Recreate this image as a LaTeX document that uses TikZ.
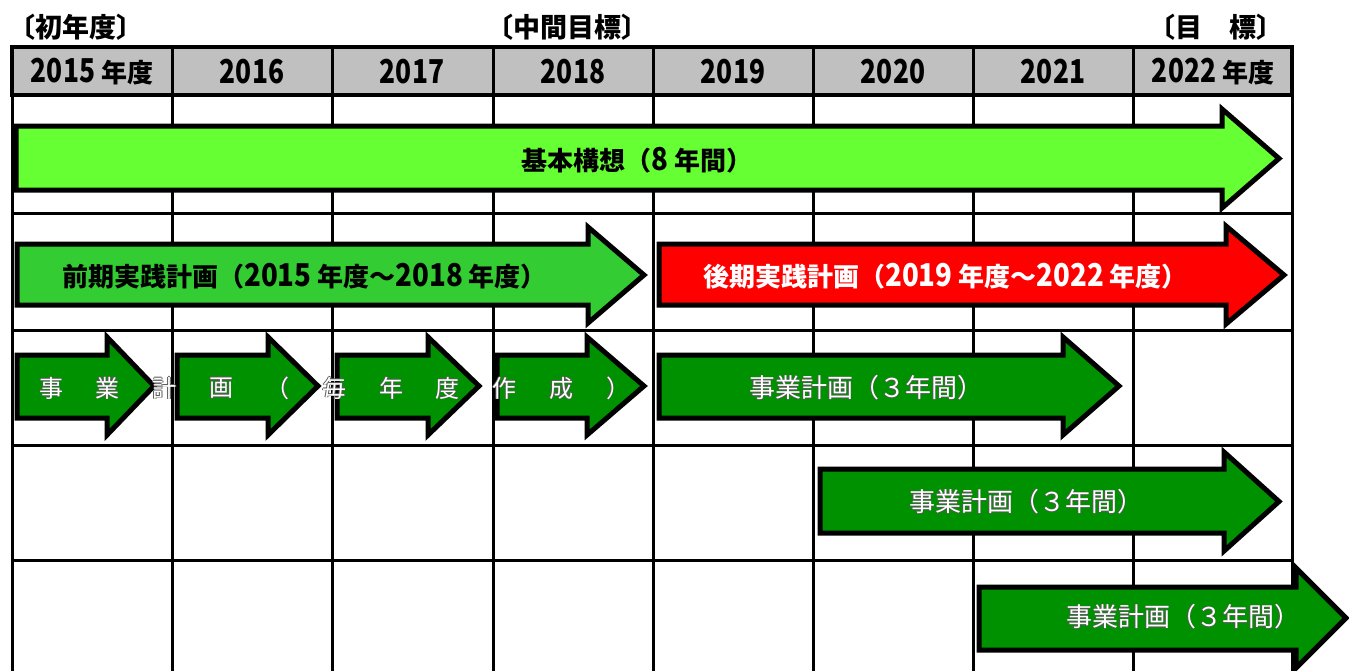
\documentclass[tikz,border=0pt]{standalone}
\usepackage{graphicx}
\usepackage{fontspec}
\setmainfont{Noto Sans CJK JP}
\newfontfamily\digA{Noto Sans CJK JP}[Scale=1.12]
\newfontfamily\digB{Noto Sans CJK JP}[Scale=1.1]
\definecolor{hdrgray}{HTML}{C0C0C0}
\definecolor{lgreen}{HTML}{66FF33}
\definecolor{mgreen}{HTML}{33CC33}
\definecolor{dgreen}{HTML}{009100}
\definecolor{ared}{HTML}{FF0000}
\newcommand\da[1]{\scalebox{0.95}[1.08]{\digA\bfseries #1}}
\newcommand\db[1]{\scalebox{0.92}[1.15]{\digB\bfseries #1}}
\newcommand\olt[1]{\leavevmode\rlap{\kern-0.8pt\color{black!65}#1}\rlap{\kern0.8pt\color{black!65}#1}\rlap{\raisebox{0.8pt}{\color{black!65}#1}}\rlap{\raisebox{-0.8pt}{\color{black!65}#1}}{\color{white}#1}}
% arrow: fill, left, base, tip, shaft top, shaft bottom, head top, head bottom
\newcommand\arw[8]{\draw[arrowline, fill=#1] (#2,#5) -- (#3,#5) -- (#3,#7) -- (#4,{(#7+#8)/2}) -- (#3,#8) -- (#3,#6) -- (#2,#6) -- cycle;}
\begin{document}
\begin{tikzpicture}[x=1pt,y=-1pt,
  grid/.style={line width=3pt,black},
  arrowline/.style={line width=5pt,black,line join=miter},
  toplbl/.style={font=\bfseries\fontsize{27}{29}\selectfont,inner sep=0pt},
  hdr/.style={font=\bfseries\fontsize{26}{28}\selectfont,inner sep=0pt},
  lbl/.style={font=\bfseries\fontsize{26}{28}\selectfont,inner sep=0pt},
  wlbl/.style={font=\fontsize{26}{28}\selectfont,inner sep=0pt},
  spread/.style={font=\fontsize{24}{26}\selectfont,inner sep=0pt}]
\useasboundingbox[fill=white] (0,0) rectangle (1349,670);
% header
\fill[hdrgray] (12,47) rectangle (1292,95);
% grid
\foreach \x in {12,172,332,493,653,813,973,1133,1292}
  \draw[grid] (\x,47) -- (\x,672);
\foreach \y in {213,330,445,560}
  \draw[grid] (12,\y) -- (1292,\y);
\draw[line width=4pt] (12,47) rectangle (1292,95);
% top labels
\node[toplbl] (t1) at (76,27) {〔初年度〕};
\node[toplbl] (t2) at (567,27) {〔中間目標〕};
\node[toplbl] (t3) at (1216,27) {〔目　標〕};
% header labels
\node[hdr] (h1) at (92,72) {\db{2015} 年度};
\node[hdr] (h2) at (252,72) {\db{2016}};
\node[hdr] (h3) at (412,72) {\db{2017}};
\node[hdr] (h4) at (573,72) {\db{2018}};
\node[hdr] (h5) at (733,72) {\db{2019}};
\node[hdr] (h6) at (893,72) {\db{2020}};
\node[hdr] (h7) at (1053,72) {\db{2021}};
\node[hdr] (h8) at (1213,72) {\db{2022} 年度};
% arrows
\arw{lgreen}{16}{1222}{1279}{126}{190}{109}{208}
\arw{mgreen}{17}{588}{644}{244}{305}{227}{323}
\arw{ared}{659}{1226}{1284}{244}{305}{226}{324}
\arw{dgreen}{17}{107}{154}{355}{418}{337}{435}
\arw{dgreen}{177}{268}{318}{355}{418}{337}{435}
\arw{dgreen}{337}{428}{479}{355}{418}{337}{435}
\arw{dgreen}{497}{587}{644}{355}{418}{337}{435}
\arw{dgreen}{659}{1063}{1119}{355}{418}{337}{435}
\arw{dgreen}{820}{1224}{1279}{469}{533}{452}{551}
\arw{dgreen}{979}{1296}{1346}{587}{650}{568}{668}
% arrow labels
\node[lbl] (a1) at (637,160) {基本構想（\da{8} 年間）};
\node[lbl,anchor=west] (a2) at (62,276) {前期実践計画（\da{2015} 年度～\da{2018} 年度）};
\node[lbl,anchor=west,text=white] (a3) at (703,276) {後期実践計画（\da{2019} 年度～\da{2022} 年度）};
\foreach \c [count=\i from 0] in {事,業,計,画,（,毎,年,度,作,成,）}
  \node[spread] (s\i) at ({51+56.7*\i},388) {\olt{\c}};
\node[wlbl] (b1) at (866,388) {\olt{事業計画（３年間）}};
\node[wlbl] (b2) at (1026,502) {\olt{事業計画（３年間）}};
\node[wlbl] (b3) at (1183,617) {\olt{事業計画（３年間）}};
\end{tikzpicture}
\end{document}
